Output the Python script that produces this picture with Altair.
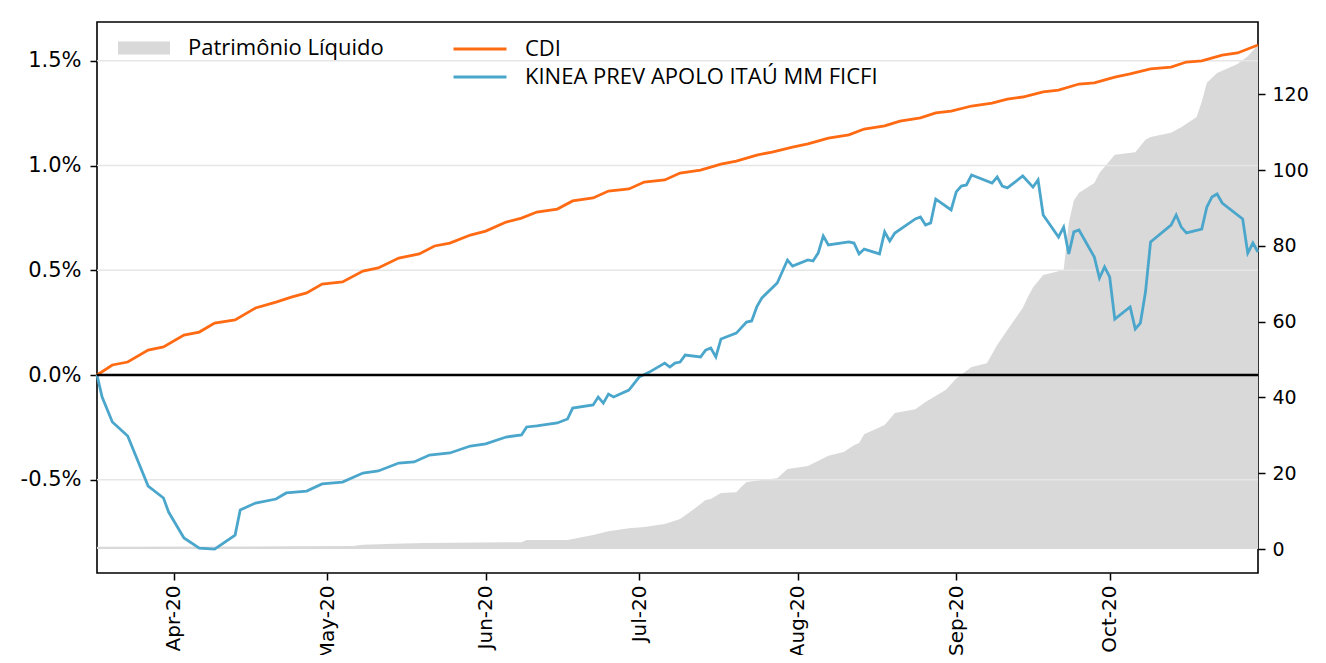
import altair as alt
import pandas as pd

# ---- data ----
kinea_dates = ["2020-03-17","2020-03-18","2020-03-20","2020-03-23","2020-03-27","2020-03-30","2020-03-31",
    "2020-04-03","2020-04-06","2020-04-09","2020-04-13","2020-04-14","2020-04-17","2020-04-21","2020-04-23",
    "2020-04-27","2020-04-30","2020-05-04","2020-05-08","2020-05-11","2020-05-15","2020-05-18","2020-05-21",
    "2020-05-25","2020-05-29","2020-06-01","2020-06-05","2020-06-08","2020-06-09","2020-06-11","2020-06-15",
    "2020-06-17","2020-06-18","2020-06-22","2020-06-23","2020-06-24","2020-06-25","2020-06-26","2020-06-29",
    "2020-07-01","2020-07-03","2020-07-06","2020-07-07","2020-07-08","2020-07-09","2020-07-10","2020-07-13",
    "2020-07-14","2020-07-15","2020-07-16","2020-07-17","2020-07-20","2020-07-22","2020-07-23","2020-07-24",
    "2020-07-25","2020-07-28","2020-07-30","2020-07-31","2020-08-03","2020-08-04","2020-08-05","2020-08-06",
    "2020-08-07","2020-08-11","2020-08-12","2020-08-13","2020-08-14","2020-08-17","2020-08-18","2020-08-19",
    "2020-08-20","2020-08-24","2020-08-25","2020-08-26","2020-08-27","2020-08-28","2020-08-31","2020-09-01",
    "2020-09-02","2020-09-03","2020-09-04","2020-09-08","2020-09-09","2020-09-10","2020-09-11","2020-09-14",
    "2020-09-16","2020-09-17","2020-09-18","2020-09-21","2020-09-22","2020-09-23","2020-09-24","2020-09-25",
    "2020-09-28","2020-09-29","2020-09-30","2020-10-01","2020-10-02","2020-10-05","2020-10-06","2020-10-07",
    "2020-10-08","2020-10-09","2020-10-13","2020-10-14","2020-10-15","2020-10-16","2020-10-19","2020-10-20",
    "2020-10-21","2020-10-22","2020-10-23","2020-10-27","2020-10-28","2020-10-29","2020-10-30"]
kinea_values = [0.0,-0.105,-0.224,-0.291,-0.530,-0.587,-0.654,
    -0.778,-0.826,-0.831,-0.764,-0.644,-0.611,-0.592,-0.563,
    -0.554,-0.520,-0.511,-0.468,-0.458,-0.420,-0.415,-0.382,
    -0.372,-0.339,-0.329,-0.296,-0.286,-0.248,-0.243,-0.229,
    -0.210,-0.158,-0.143,-0.105,-0.134,-0.091,-0.105,-0.072,
    -0.010,0.014,0.057,0.038,0.057,0.062,0.095,0.086,
    0.119,0.129,0.086,0.172,0.200,0.253,0.258,0.325,
    0.368,0.439,0.549,0.520,0.549,0.544,0.582,0.663,
    0.621,0.635,0.630,0.578,0.601,0.578,0.683,0.640,
    0.678,0.745,0.754,0.716,0.726,0.840,0.788,0.874,
    0.902,0.907,0.955,0.916,0.945,0.902,0.893,0.950,
    0.897,0.931,0.764,0.659,0.706,0.578,0.683,0.692,
    0.563,0.463,0.516,0.468,0.267,0.325,0.220,0.248,
    0.396,0.635,0.716,0.764,0.706,0.678,0.697,0.802,
    0.850,0.864,0.821,0.745,0.582,0.630,0.587]

cdi_dates = ["2020-03-17","2020-03-20","2020-03-23","2020-03-27","2020-03-30","2020-04-03","2020-04-06",
    "2020-04-09","2020-04-13","2020-04-17","2020-04-21","2020-04-24","2020-04-27","2020-04-30","2020-05-04",
    "2020-05-08","2020-05-11","2020-05-15","2020-05-19","2020-05-22","2020-05-25","2020-05-29","2020-06-01",
    "2020-06-05","2020-06-08","2020-06-11","2020-06-15","2020-06-18","2020-06-22","2020-06-25","2020-06-29",
    "2020-07-02","2020-07-06","2020-07-09","2020-07-13","2020-07-17","2020-07-20","2020-07-24","2020-07-27",
    "2020-07-31","2020-08-03","2020-08-07","2020-08-11","2020-08-14","2020-08-18","2020-08-21","2020-08-25",
    "2020-08-28","2020-08-31","2020-09-04","2020-09-08","2020-09-11","2020-09-14","2020-09-18","2020-09-21",
    "2020-09-25","2020-09-28","2020-10-02","2020-10-05","2020-10-09","2020-10-13","2020-10-16","2020-10-19",
    "2020-10-23","2020-10-26","2020-10-30"]
cdi_values = [0.000,0.048,0.062,0.119,0.134,0.191,0.205,
    0.248,0.263,0.320,0.348,0.372,0.392,0.434,0.444,
    0.496,0.511,0.558,0.578,0.616,0.630,0.668,0.687,
    0.730,0.749,0.778,0.792,0.831,0.845,0.878,0.888,
    0.921,0.931,0.964,0.978,1.007,1.021,1.050,1.064,
    1.088,1.103,1.131,1.146,1.174,1.189,1.212,1.227,
    1.251,1.260,1.284,1.298,1.317,1.327,1.351,1.360,
    1.389,1.394,1.422,1.437,1.461,1.470,1.494,1.499,
    1.527,1.537,1.575]

pl_dates = ["2020-03-17","2020-04-24","2020-05-06","2020-05-08","2020-05-14","2020-05-20","2020-06-05",
    "2020-06-08","2020-06-09","2020-06-17","2020-06-19","2020-06-22","2020-06-25","2020-06-29","2020-07-02",
    "2020-07-06","2020-07-09","2020-07-11","2020-07-14","2020-07-15","2020-07-17","2020-07-20","2020-07-21",
    "2020-07-22","2020-07-28","2020-07-30","2020-08-03","2020-08-07","2020-08-10","2020-08-12","2020-08-13",
    "2020-08-14","2020-08-18","2020-08-20","2020-08-24","2020-08-26","2020-08-30","2020-09-01","2020-09-04",
    "2020-09-07","2020-09-09","2020-09-11","2020-09-14","2020-09-15","2020-09-16","2020-09-18","2020-09-22",
    "2020-09-23","2020-09-24","2020-09-25","2020-09-28","2020-09-29","2020-10-02","2020-10-06","2020-10-08",
    "2020-10-09","2020-10-13","2020-10-15","2020-10-18","2020-10-19","2020-10-20","2020-10-22","2020-10-26",
    "2020-10-28","2020-10-30"]
pl_values = [0.6,0.7,0.8,1.1,1.4,1.6,1.8,
    1.8,2.4,2.4,2.9,3.7,4.7,5.5,5.8,
    6.6,7.9,9.8,12.9,13.2,14.8,15.0,16.4,
    17.7,18.7,21.1,21.9,24.6,25.6,27.4,28.0,
    30.3,32.7,35.9,36.9,38.8,42.0,45.0,48.0,
    49.0,53.8,57.8,63.6,66.5,69.0,72.3,73.6,
    86.0,92.0,94.0,96.6,99.2,104.0,104.7,108.0,
    108.7,109.8,111.3,114.0,118.0,123.0,125.6,128.0,
    130.0,133.0]

series_names = ["CDI", "KINEA PREV APOLO ITAÚ MM FICFI"]
area_name = "Patrimônio Líquido"
left_ticks = [-0.5, 0.0, 0.5, 1.0, 1.5]
right_ticks = [0, 20, 40, 60, 80, 100, 120]
month_ticks = ["2020-04-01", "2020-05-01", "2020-06-01", "2020-07-01", "2020-08-01", "2020-09-01", "2020-10-01"]

ORANGE = "#ff6a13"
BLUE = "#4ba6cc"
GRAY = "#d9d9d9"
TICK_FONT = "DejaVu Sans"
LEG_FONT = "Open Sans"

lines_df = pd.concat([
    pd.DataFrame({"date": cdi_dates, "value": cdi_values, "series": series_names[0]}),
    pd.DataFrame({"date": kinea_dates, "value": kinea_values, "series": series_names[1]}),
])
pl_df = pd.DataFrame({"date": pl_dates, "value": pl_values, "series": area_name})
grid_df = pd.DataFrame({"v": [t for t in left_ticks if t != 0.0]})
zero_df = pd.DataFrame({"v": [0.0]})

x_dom = [alt.DateTime(year=2020, month=3, date=17, utc=True), alt.DateTime(year=2020, month=10, date=30, utc=True)]
x_vals = [alt.DateTime(year=int(s[:4]), month=int(s[5:7]), date=int(s[8:]), utc=True) for s in month_ticks]

x_axis = alt.Axis(values=x_vals, labelExpr="utcFormat(datum.value, '%b-%y')", labelAngle=270,
                  labelFont=TICK_FONT, labelFontSize=20, labelColor="black", labelPadding=5,
                  tickSize=7, tickColor="black", tickWidth=1.5, domain=False, grid=False)
x_scale = alt.Scale(type="utc", domain=x_dom, nice=False)

left_scale = alt.Scale(domain=[-0.945, 1.685], nice=False, zero=False)
right_scale = alt.Scale(domain=[-6.33, 139.05], nice=False, zero=False)

left_axis = alt.Axis(orient="left", values=left_ticks,
                     labelExpr="(datum.value < 0 ? '-' : '') + format(abs(datum.value), '.1f') + '%'",
                     labelFont=TICK_FONT, labelFontSize=21, labelColor="black", labelPadding=9,
                     tickSize=7, tickColor="black", tickWidth=1.5, domain=False, grid=False)

area = alt.Chart(pl_df).mark_area(opacity=1).encode(
    x=alt.X("date:T", title=None, scale=x_scale, axis=x_axis),
    y=alt.Y("value:Q", title=None, scale=right_scale,
            axis=alt.Axis(orient="right", values=right_ticks, format="d", labelFont=TICK_FONT,
                          labelFontSize=19, labelColor="black", labelPadding=7, tickSize=7,
                          tickColor="black", tickWidth=1.5, domain=False, grid=False)),
    y2=alt.datum(0),
    fill=alt.Fill("series:N", scale=alt.Scale(domain=[area_name], range=[GRAY]),
                  legend=alt.Legend(title=None, orient="none", legendX=34, legendY=13, padding=0,
                                    symbolType="M-2,-0.5H2V0.5H-2Z", symbolSize=676,
                                    symbolStrokeWidth=0, labelFont=LEG_FONT, labelFontSize=22,
                                    labelColor="black", labelOffset=31, labelLimit=600)),
)

grid = alt.Chart(grid_df).mark_rule(color="#e6e6e6", strokeWidth=1.5).encode(
    y=alt.Y("v:Q", title=None, scale=left_scale, axis=left_axis)
)

lines = alt.Chart(lines_df).mark_line(strokeWidth=2.8).encode(
    x=alt.X("date:T", title=None, scale=x_scale, axis=x_axis),
    y=alt.Y("value:Q", title=None, scale=left_scale, axis=left_axis),
    stroke=alt.Stroke("series:N", scale=alt.Scale(domain=series_names, range=[ORANGE, BLUE]),
                      legend=alt.Legend(title=None, orient="none", legendX=368, legendY=12, padding=0,
                                        symbolType="M-2,0H2", symbolSize=702, symbolStrokeWidth=2.8,
                                        labelFont=LEG_FONT, labelFontSize=22, labelColor="black",
                                        labelOffset=30, rowPadding=2, labelLimit=600)),
    order=alt.Order("date:T"),
)

zero = alt.Chart(zero_df).mark_rule(color="black", strokeWidth=2.4).encode(
    y=alt.Y("v:Q", title=None, scale=left_scale, axis=left_axis)
)

chart = alt.layer(area, alt.layer(grid, lines, zero)).resolve_scale(y="independent").properties(
    width=1161, height=551,
    autosize=alt.AutoSizeParams(type="none"),
    padding={"left": 89, "top": 14, "right": 60, "bottom": 82},
    background="white",
).configure_view(stroke="black", strokeWidth=1.6)

chart.save("out.html", embed_options={"renderer": "svg", "actions": False})
